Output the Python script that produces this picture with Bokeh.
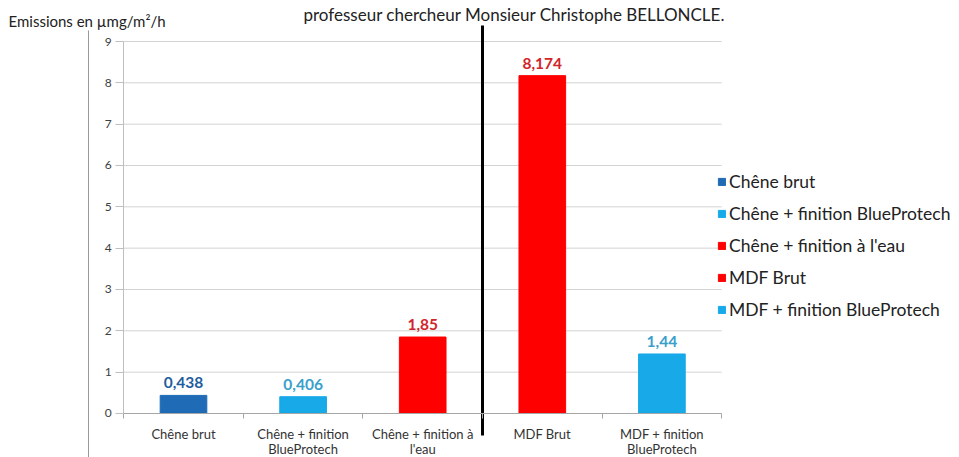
from bokeh.plotting import figure
from bokeh.models import (ColumnDataSource, Range1d, LabelSet, Label, Legend, LegendItem,
                          FixedTicker, LinearAxis)
from bokeh.core.properties import value
from bokeh.embed import file_html
from bokeh.resources import INLINE

# ---- data ----
categories = ["Chêne brut", "Chêne + finition BlueProtech", "Chêne + finition à l'eau",
              "MDF Brut", "MDF + finition BlueProtech"]
tick_line1 = ["Chêne brut", "Chêne + finition", "Chêne + finition à", "MDF Brut", "MDF + finition"]
tick_line2 = ["", "BlueProtech", "l'eau", "", "BlueProtech"]
values = [0.438, 0.406, 1.85, 8.174, 1.44]
bar_colors = ["#1F6BB5", "#17A9E8", "#FF0000", "#FF0000", "#17A9E8"]
label_colors = ["#1F5E9E", "#39A0CC", "#D0252B", "#D0252B", "#39A0CC"]
y_ticks = [0, 1, 2, 3, 4, 5, 6, 7, 8, 9]
title_text = "professeur chercheur Monsieur Christophe BELLONCLE."
y_title = "Emissions en µmg/m²/h"

idx = list(range(len(categories)))
value_labels = [f"{v:g}".replace(".", ",") for v in values]
bounds_ticks = [i - 0.5 for i in idx] + [idx[-1] + 0.5]

FONT = "Lato"
W, H = 959, 457
PXX = 119.6          # px per category
PXY = 41.333         # px per unit of emission
X0 = -183 / PXX      # x value at the canvas left edge
Y1 = 9 + 41 / PXY    # y value at the canvas top edge
Y0 = Y1 - H / PXY


def X(px):
    return X0 + px / PXX


def Y(py):
    return Y1 - py / PXY


p = figure(width=W, height=H, x_range=Range1d(X0, X0 + W / PXX), y_range=Range1d(Y0, Y1),
           output_backend="svg", toolbar_location=None, min_border=0)
p.outline_line_color = None
p.grid.visible = False

# horizontal grid lines (between the axis bounds)
grid_src = ColumnDataSource(dict(y=y_ticks[1:]))
p.segment(x0=-0.5, x1=idx[-1] + 0.5, y0="y", y1="y", source=grid_src,
          line_color="#D3D3D3", line_width=1)

src = ColumnDataSource(dict(x=idx, cat=categories, val=values, color=bar_colors,
                            lab=value_labels, lcolor=label_colors))
r = p.vbar(x="x", top="val", width=0.39, color="color", source=src)

p.add_layout(LabelSet(x="x", y="val", text="lab", source=src, text_color="lcolor",
                      text_font=value(FONT), text_font_style="bold", text_font_size="15.5px",
                      text_align="center", text_baseline="bottom", y_offset=7))

# y axis
ya = p.yaxis[0]
ya.fixed_location = -0.5
ya.bounds = (0, 9)
ya.ticker = FixedTicker(ticks=y_ticks)
ya.axis_line_color = "#BFBFBF"
ya.major_tick_line_color = "#BFBFBF"
ya.major_tick_out = 8
ya.major_tick_in = 0
ya.minor_tick_line_color = None
ya.major_label_text_font = FONT
ya.major_label_text_font_size = "12px"
ya.major_label_text_color = "#404040"
ya.major_label_standoff = 4

# x axis, first line of labels
xa = p.xaxis[0]
xa.fixed_location = 0
xa.bounds = (-0.5, idx[-1] + 0.5)
xa.ticker = FixedTicker(ticks=idx, minor_ticks=bounds_ticks)
xa.axis_line_color = "#A6A6A6"
xa.major_tick_line_color = None
xa.major_tick_out = 0
xa.major_tick_in = 0
xa.minor_tick_line_color = "#A6A6A6"
xa.minor_tick_out = 5
xa.minor_tick_in = 0
xa.major_label_text_font = FONT
xa.major_label_text_font_size = "13px"
xa.major_label_text_color = "#333333"
xa.major_label_standoff = 8
xa.major_label_overrides = {i: t for i, t in zip(idx, tick_line1)}

# x axis, second line of labels
xa2 = LinearAxis(fixed_location=0, bounds=(-0.5, idx[-1] + 0.5),
                 ticker=FixedTicker(ticks=idx), axis_line_color=None,
                 major_tick_line_color=None, minor_tick_line_color=None,
                 major_tick_out=0, major_tick_in=0, major_label_standoff=28,
                 major_label_text_font=FONT, major_label_text_font_size="13px",
                 major_label_text_color="#333333",
                 major_label_overrides={i: t for i, t in zip(idx, tick_line2)})
p.add_layout(xa2, "below")

# black separator between oak and MDF
p.segment(x0=[2.5], x1=[2.5], y0=[Y(435)], y1=[Y(25)], line_color="black", line_width=3)

# left border of the pasted picture
p.segment(x0=[X(88)], x1=[X(88)], y0=[Y(H)], y1=[Y(30)], line_color="#9A9A9A", line_width=1)

# legend
items = [LegendItem(label=c, renderers=[r], index=i) for i, c in enumerate(categories)]
legend = Legend(items=items, location=(717, 137), padding=0, margin=0,
                border_line_color=None, background_fill_alpha=0,
                glyph_width=9, glyph_height=9, label_height=20, spacing=11,
                label_standoff=3, label_text_font=FONT, label_text_font_size="17.5px",
                label_text_color="#222222")
p.add_layout(legend, "center")

# title and unit
p.add_layout(Label(x=X(303), y=Y(14), text=title_text, text_font=FONT,
                   text_font_size="17px", text_color="#222222", text_baseline="middle"))
p.add_layout(Label(x=X(8), y=Y(20), text=y_title, text_font=FONT,
                   text_font_size="15px", text_color="#222222", text_baseline="middle"))

open("out.html", "w").write(file_html(p, INLINE))
